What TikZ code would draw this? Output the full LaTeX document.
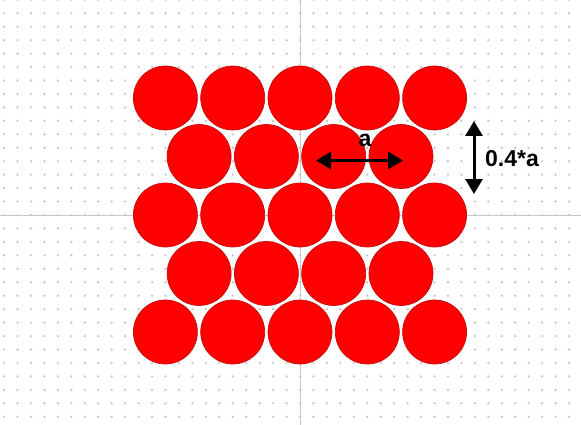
\documentclass[tikz,border=0pt]{standalone}
\usepackage{fontspec}
\setmainfont{Liberation Sans}
\usetikzlibrary{arrows.meta}
\definecolor{ballred}{RGB}{255,0,0}
\definecolor{balledge}{RGB}{195,15,15}
\definecolor{gridgray}{RGB}{200,200,200}
\definecolor{dotgray}{RGB}{200,200,200}
\begin{document}
\begin{tikzpicture}[x=1pt,y=-1pt]
\tikzstyle{ball}=[circle,fill=ballred,draw=balledge,line width=0.7pt,inner sep=0pt,minimum size=64pt]
\tikzstyle{dim}=[line width=3pt,{Triangle[length=15pt,width=17pt]}-{Triangle[length=15pt,width=17pt]}]
\tikzstyle{lbl}=[font=\fontsize{23}{27}\selectfont\bfseries,inner sep=0pt]

\useasboundingbox (0,0) rectangle (581,425);
\fill[white] (0,0) rectangle (581,425);

% dotted grid and axes
\foreach \i in {-22,...,21}
  \foreach \j in {-16,...,15}
    \fill[dotgray] ({300+\i*13.45},{215+\j*13.45}) circle (1.3);
\draw[gridgray,line width=1pt] (300,0) -- (300,425);
\draw[gridgray,line width=1pt] (0,215) -- (581,215);

% row 1
\node[ball] (r1c1) at (165.4,98) {};
\node[ball] (r1c2) at (232.7,98) {};
\node[ball] (r1c3) at (300,98) {};
\node[ball] (r1c4) at (367.3,98) {};
\node[ball] (r1c5) at (434.6,98) {};
% row 2
\node[ball] (r2c1) at (199.1,156.5) {};
\node[ball] (r2c2) at (266.4,156.5) {};
\node[ball] (r2c3) at (333.7,156.5) {};
\node[ball] (r2c4) at (401,156.5) {};
% row 3
\node[ball] (r3c1) at (165.4,215) {};
\node[ball] (r3c2) at (232.7,215) {};
\node[ball] (r3c3) at (300,215) {};
\node[ball] (r3c4) at (367.3,215) {};
\node[ball] (r3c5) at (434.6,215) {};
% row 4
\node[ball] (r4c1) at (199.1,273.5) {};
\node[ball] (r4c2) at (266.4,273.5) {};
\node[ball] (r4c3) at (333.7,273.5) {};
\node[ball] (r4c4) at (401,273.5) {};
% row 5
\node[ball] (r5c1) at (165.4,332) {};
\node[ball] (r5c2) at (232.7,332) {};
\node[ball] (r5c3) at (300,332) {};
\node[ball] (r5c4) at (367.3,332) {};
\node[ball] (r5c5) at (434.6,332) {};

% dimensions
\coordinate (aleft) at (316,160.5);
\coordinate (aright) at (403,160.5);
\coordinate (htop) at (474,121);
\coordinate (hbot) at (474,194);
\draw[dim] (aleft) -- (aright);
\draw[dim] (htop) -- (hbot);
\node[lbl] (alabel) at (365,140) {a};
\node[lbl,anchor=west] (hlabel) at (485,159) {0.4*a};

\end{tikzpicture}
\end{document}
